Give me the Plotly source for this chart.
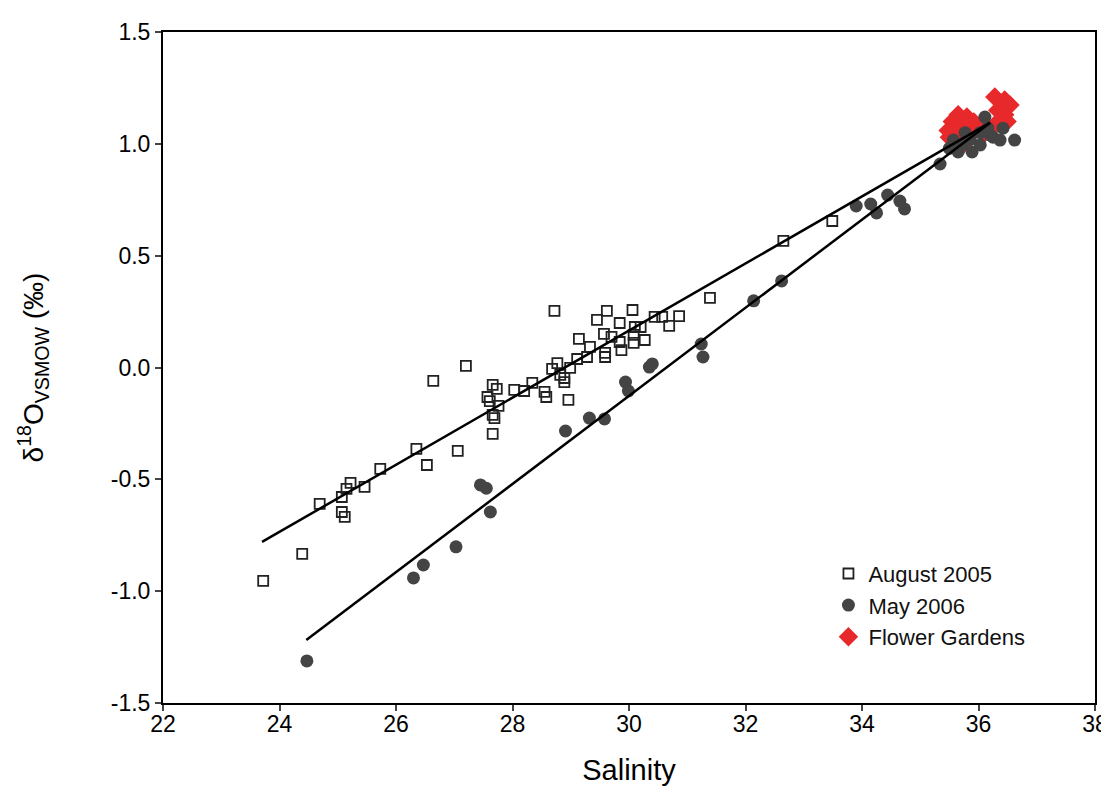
import numpy as np
import plotly.graph_objects as go

# August 2005 (open squares)
aug_sal = [23.72, 24.39, 24.69, 25.07, 25.07, 25.12, 25.15, 25.22, 25.46, 25.73,
           26.53, 26.35, 26.64, 27.20, 27.06, 27.66, 27.73, 27.57, 27.61, 27.76,
           27.66, 27.69, 27.66, 28.03, 28.20, 28.34, 28.55, 28.58, 28.68, 28.72,
           28.77, 28.99, 28.82, 28.89, 28.89, 28.96, 29.11, 29.28, 29.33, 29.14,
           29.45, 29.62, 29.57, 29.70, 29.59, 29.59, 29.84, 29.84, 29.87, 30.06,
           30.10, 30.20, 30.08, 30.08, 30.27, 30.44, 30.57, 30.69, 30.86, 31.39,
           32.65, 33.49]
aug_d18o = [-0.954, -0.833, -0.610, -0.579, -0.646, -0.668, -0.543, -0.516, -0.534, -0.453,
            -0.436, -0.364, -0.060, 0.007, -0.373, -0.078, -0.096, -0.132, -0.150, -0.172,
            -0.212, -0.226, -0.297, -0.100, -0.105, -0.069, -0.109, -0.132, -0.006, 0.253,
            0.020, -0.002, -0.033, -0.047, -0.065, -0.145, 0.038, 0.047, 0.092, 0.128,
            0.213, 0.253, 0.150, 0.137, 0.065, 0.047, 0.199, 0.114, 0.078, 0.257,
            0.181, 0.181, 0.146, 0.110, 0.123, 0.226, 0.226, 0.186, 0.230, 0.311,
            0.566, 0.655]

# May 2006 (filled circles)
may_sal = [24.47, 26.30, 26.47, 27.03, 27.45, 27.55, 27.62, 28.91, 29.32, 29.58,
           29.94, 29.99, 30.35, 30.40, 31.24, 31.27, 32.14, 32.62, 33.90, 34.15,
           34.25, 34.44, 34.65, 34.73, 35.34, 36.11, 36.16, 36.03, 35.86, 35.72,
           35.65, 35.89, 36.25, 36.37, 36.62, 35.57, 36.03, 35.77, 36.42, 35.50,
           36.20]
may_d18o = [-1.312, -0.941, -0.883, -0.802, -0.525, -0.540, -0.646, -0.284, -0.226, -0.230,
            -0.065, -0.105, 0.002, 0.016, 0.105, 0.047, 0.298, 0.387, 0.722, 0.731,
            0.691, 0.771, 0.744, 0.709, 0.910, 1.12, 1.07, 1.05, 1.02, 0.995,
            0.964, 0.964, 1.03, 1.017, 1.017, 1.017, 0.995, 1.05, 1.07, 0.98,
            1.04]

# Flower Gardens (red diamonds)
fg_sal = [36.28, 36.45, 36.54, 36.33, 36.45, 36.49, 36.28, 35.80, 35.92, 35.75,
          35.98, 35.80, 36.03, 35.55, 35.60, 36.11, 36.37, 35.50, 35.65, 35.75,
          35.48]
fg_d18o = [1.21, 1.196, 1.174, 1.15, 1.13, 1.10, 1.084, 1.12, 1.098, 1.07,
           1.07, 1.04, 1.084, 1.10, 1.05, 1.05, 1.105, 1.03, 1.13, 1.00,
           1.06]

# Regression lines (slope, intercept, salinity range)
aug_fit = {"slope": 0.150, "intercept": -4.335, "range": [23.7, 36.2]}
may_fit = {"slope": 0.197, "intercept": -6.037, "range": [24.46, 36.2]}

x_ticks = [22, 24, 26, 28, 30, 32, 34, 36, 38]
y_ticks = [-1.5, -1.0, -0.5, 0.0, 0.5, 1.0, 1.5]
y_ticktext = ["-1.5", "-1.0", "-0.5", "0.0", "0.5", "1.0", "1.5"]

FONT = "Liberation Sans, Arial, sans-serif"
fig = go.Figure()

fig.add_trace(go.Scatter(x=fg_sal, y=fg_d18o, mode="markers", name="Flower Gardens",
                         legendrank=3,
                         marker=dict(symbol="diamond", size=15, color="#e8292b",
                                     line=dict(width=0))))
fig.add_trace(go.Scatter(x=may_sal, y=may_d18o, mode="markers", name="May 2006",
                         legendrank=2,
                         marker=dict(symbol="circle", size=13, color="#444444",
                                     line=dict(width=0))))
fig.add_trace(go.Scatter(x=aug_sal, y=aug_d18o, mode="markers", name="August 2005",
                         legendrank=1,
                         marker=dict(symbol="square-open", size=10, color="#222222",
                                     line=dict(width=1.8, color="#222222"))))

for fit in (aug_fit, may_fit):
    xs = np.array(fit["range"])
    fig.add_trace(go.Scatter(x=xs, y=fit["slope"] * xs + fit["intercept"], mode="lines",
                             line=dict(color="black", width=2.5), showlegend=False,
                             hoverinfo="skip"))

# The page body adds an 8 px offset, so the figure is sized to fit the window.
fig.update_layout(
    width=1101, height=796,
    margin=dict(l=155, r=14, t=24, b=101),
    paper_bgcolor="white", plot_bgcolor="white",
    font=dict(family=FONT, color="black", size=20),
    legend=dict(x=0.714, y=0.224, xanchor="left", yanchor="top",
                font=dict(size=22, color="#111111"), bgcolor="rgba(0,0,0,0)",
                tracegroupgap=0),
    showlegend=True,
)
fig.update_xaxes(range=[22, 38], tickvals=x_ticks, ticks="outside", ticklen=6,
                 tickwidth=2, showline=True, linewidth=2, linecolor="black",
                 mirror=True, showgrid=False, zeroline=False, automargin=False,
                 tickfont=dict(size=23), ticklabelstandoff=-7,
                 ticklabeloverflow="allow",
                 title=dict(text="Salinity", font=dict(size=29), standoff=24))
fig.update_yaxes(range=[-1.5001, 1.5001], tickvals=y_ticks, ticktext=y_ticktext,
                 ticks="outside", ticklen=6, tickwidth=2, showline=True, linewidth=2,
                 linecolor="black", mirror=True, showgrid=False, zeroline=False,
                 automargin=False, tickfont=dict(size=23),
                 title=dict(text="δ<sup>18</sup>O<sub>VSMOW</sub> (‰)", font=dict(size=28),
                            standoff=59))

fig.write_html("out.html")
